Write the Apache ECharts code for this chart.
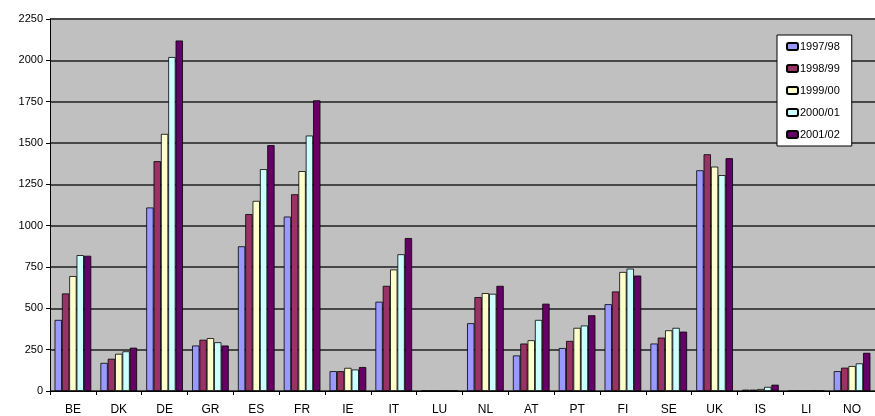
<!DOCTYPE html>
<html>
<head>
<meta charset="utf-8">
<script src="https://cdn.jsdelivr.net/npm/echarts@6/dist/echarts.min.js"></script>
<style>
  html, body { margin: 0; padding: 0; background: #ffffff; }
  #chart { width: 875px; height: 416px; }
</style>
</head>
<body>
<div id="chart"></div>
<script>
// Countries along the category axis
const countries = ['BE', 'DK', 'DE', 'GR', 'ES', 'FR', 'IE', 'IT', 'LU', 'NL', 'AT', 'PT', 'FI', 'SE', 'UK', 'IS', 'LI', 'NO'];

// One array per academic year, values in country order
const y1997_98 = [430, 170, 1110, 275, 875, 1055, 120, 540, 2, 410, 215, 260, 525, 287, 1335, 8, 1, 120];
const y1998_99 = [590, 195, 1390, 310, 1070, 1190, 120, 636, 2, 568, 287, 303, 602, 323, 1432, 8, 2, 141];
const y1999_00 = [695, 225, 1555, 320, 1150, 1330, 140, 735, 1, 592, 307, 382, 720, 367, 1357, 12, 2, 151];
const y2000_01 = [822, 240, 2020, 295, 1342, 1545, 130, 827, 1, 588, 430, 396, 740, 382, 1306, 25, 3, 167];
const y2001_02 = [818, 262, 2120, 275, 1487, 1758, 145, 925, 1, 636, 528, 458, 698, 359, 1408, 38, 2, 231];

const seriesNames = ['1997/98', '1998/99', '1999/00', '2000/01', '2001/02'];
const seriesValues = [y1997_98, y1998_99, y1999_00, y2000_01, y2001_02];
const seriesColors = ['#9999FF', '#993366', '#FFFFCC', '#CCFFFF', '#660066'];

// Value-axis ticks
const yMin = 0, yMax = 2250, yStep = 250;

const chart = echarts.init(document.getElementById('chart'), null, { renderer: 'canvas' });

chart.setOption({
  animation: false,
  backgroundColor: '#ffffff',
  textStyle: { fontFamily: 'Liberation Sans, Arial, sans-serif' },
  grid: {
    left: 50, right: -12, top: 19, bottom: 23,
    show: true, backgroundColor: '#C0C0C0', borderWidth: 0
  },
  legend: {
    orient: 'vertical',
    left: 777, top: 35,
    data: seriesNames,
    backgroundColor: '#ffffff',
    borderColor: '#000000', borderWidth: 1,
    padding: [6, 12, 6, 9],
    itemWidth: 11, itemHeight: 7, itemGap: 11,
    textStyle: { fontSize: 11, color: '#000000', padding: [0, 0, 0, -3] }
  },
  xAxis: {
    type: 'category',
    data: countries,
    axisLine: { lineStyle: { color: '#000000', width: 1 } },
    axisTick: { show: true, length: 4, lineStyle: { color: '#000000' } },
    axisLabel: { color: '#000000', fontSize: 12, margin: 13 },
    splitLine: { show: false }
  },
  yAxis: {
    type: 'value',
    min: yMin, max: yMax, interval: yStep,
    axisLine: { show: true, lineStyle: { color: '#000000', width: 1 } },
    axisTick: { show: true, length: 4, lineStyle: { color: '#000000' } },
    axisLabel: { color: '#000000', fontSize: 11, margin: 7, formatter: v => String(v) },
    splitLine: { show: true, lineStyle: { color: '#474747', width: 2 } }
  },
  series: seriesNames.map((name, i) => ({
    name: name,
    type: 'bar',
    data: seriesValues[i],
    barGap: '0%',
    barCategoryGap: '20%',
    itemStyle: { color: seriesColors[i], borderColor: '#000000', borderWidth: 0.8 }
  }))
});
</script>
</body>
</html>
